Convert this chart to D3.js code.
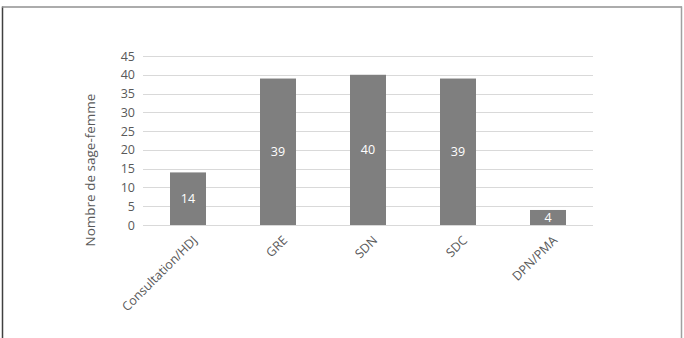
<!DOCTYPE html>
<html>
<head>
<meta charset="utf-8">
<script src="https://cdn.jsdelivr.net/npm/d3@7"></script>
<style>
  body { margin: 0; background: #fff; }
  svg { display: block; font-family: "Open Sans", sans-serif; }
</style>
</head>
<body>
<div id="chart"></div>
<script>
const categories = ['Consultation/HDJ', 'GRE', 'SDN', 'SDC', 'DPN/PMA']
const values = [14, 39, 40, 39, 4]
const yTicks = [0, 5, 10, 15, 20, 25, 30, 35, 40, 45]
const yTitle = 'Nombre de sage-femme'

const width = 684
const height = 338
const padding = { top: 56, right: 91, bottom: 113, left: 143 }

const svg = d3.select('#chart').append('svg')
    .attr('width', width)
    .attr('height', height)

// outer frame (only partly visible in the picture)
svg.append('line').attr('x1', 2.5).attr('x2', 2.5).attr('y1', 6.5).attr('y2', height)
    .attr('stroke', '#404040').attr('stroke-width', 1.5)
svg.append('line').attr('x1', 2).attr('x2', 682).attr('y1', 7).attr('y2', 7)
    .attr('stroke', '#909090').attr('stroke-width', 1.5)
svg.append('line').attr('x1', 681.5).attr('x2', 681.5).attr('y1', 6.5).attr('y2', height)
    .attr('stroke', '#a0a0a0').attr('stroke-width', 1.5)

const x = d3.scaleBand()
    .domain(categories)
    .range([padding.left, width - padding.right])
    .paddingInner(0.6)
    .paddingOuter(0.3)

const y = d3.scaleLinear()
    .domain([0, 45])
    .range([height - padding.bottom, padding.top])

// gridlines
svg.append('g')
    .selectAll('line')
    .data(yTicks)
    .enter()
    .append('line')
    .attr('x1', padding.left)
    .attr('x2', width - padding.right)
    .attr('y1', d => Math.round(y(d)) + 0.5)
    .attr('y2', d => Math.round(y(d)) + 0.5)
    .attr('stroke', '#d9d9d9')
    .attr('stroke-width', 1)

// y axis labels
const yAxis = svg.append('g')
    .attr('transform', `translate(${padding.left},0)`)
    .call(d3.axisLeft(y).tickValues(yTicks).tickSize(0).tickPadding(8))
yAxis.select('.domain').remove()
yAxis.selectAll('text')
    .attr('fill', '#595959')
    .attr('font-size', 12.5)
    .attr('font-family', '"Open Sans", sans-serif')

// bars
svg.append('g')
    .selectAll('rect')
    .data(values)
    .enter()
    .append('rect')
    .attr('x', (d, i) => x(categories[i]))
    .attr('y', d => y(d))
    .attr('width', x.bandwidth())
    .attr('height', d => y(0) - y(d))
    .attr('fill', '#7f7f7f')

// value labels
svg.append('g')
    .selectAll('text')
    .data(values)
    .enter()
    .append('text')
    .attr('x', (d, i) => x(categories[i]) + x.bandwidth() / 2)
    .attr('y', d => (y(d) + y(0)) / 2)
    .attr('dy', '0.35em')
    .attr('text-anchor', 'middle')
    .attr('fill', '#ffffff')
    .attr('font-size', 12.5)
    .text(d => d)

// x axis labels
const xAxis = svg.append('g')
    .attr('transform', `translate(0,${y(0)})`)
    .call(d3.axisBottom(x).tickSize(0).tickPadding(0))
xAxis.select('.domain').remove()
xAxis.selectAll('text')
    .attr('fill', '#595959')
    .attr('font-size', 12.5)
    .attr('font-family', '"Open Sans", sans-serif')
    .attr('text-anchor', 'end')
    .attr('dy', '0.35em')
    .attr('transform', 'translate(7,13)rotate(-45)')

// y axis title
svg.append('text')
    .attr('transform', `translate(95,170)rotate(-90)`)
    .attr('text-anchor', 'middle')
    .attr('fill', '#595959')
    .attr('font-size', 13.5)
    .text(yTitle)
</script>
</body>
</html>
